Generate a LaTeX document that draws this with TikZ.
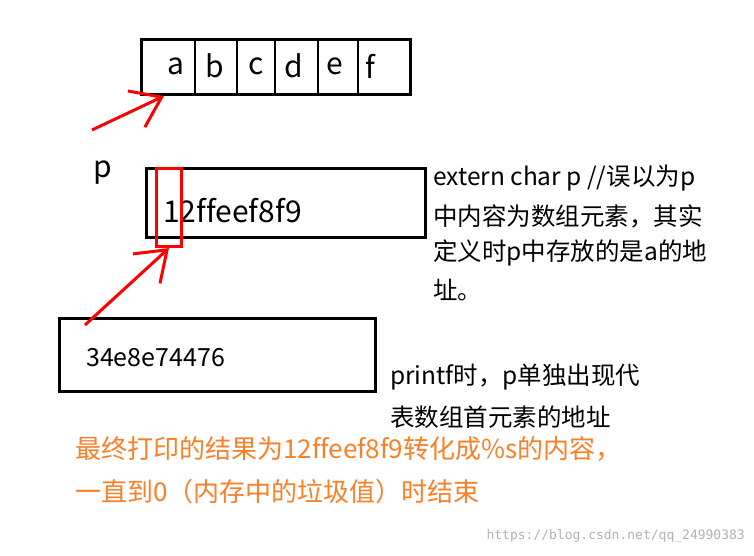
\documentclass[tikz,border=0pt]{standalone}
\usepackage{fontspec}
\setmainfont{Noto Sans CJK SC}[Ligatures={NoCommon}]
\newfontfamily\wm{DejaVu Sans Mono}
\usetikzlibrary{arrows.meta}
\definecolor{org}{RGB}{250,128,40}
\tikzset{box/.style={draw,line width=3pt},
 redarr/.style={red,line width=3pt,-{Straight Barb[length=28pt,width=40pt,line width=3pt]}},
 lt/.style={anchor=west,inner sep=0,font=\fontsize{24.5}{27}\selectfont},
 cell/.style={inner sep=0,font=\fontsize{30}{32}\selectfont}}
\begin{document}
\begin{tikzpicture}[x=1pt,y=-1pt]
\useasboundingbox[fill=white] (0,0) rectangle (754,555);
\node[box,minimum width=269,minimum height=55,anchor=north west,inner sep=0] (arr) at (140,38) {};
\foreach \x in {195,237,275,318,358}{\draw[line width=2.5pt] (\x,38) -- (\x,93);}
\foreach \c/\x in {a/176,b/215,c/256,d/294,e/335,f/370}{\node[cell] (c\c) at (\x,66) {\c};}
\node[cell] (p) at (103,173) {p};
\node[box,minimum width=279,minimum height=69,anchor=north west,inner sep=0] (pb) at (145,167) {};
\node[inner sep=0,font=\fontsize{30}{30}\selectfont,anchor=west] (pv) at (163,211) {12ffeef8f9};
\node[draw=red,line width=3pt,minimum width=25,minimum height=78,anchor=north west,inner sep=0] (rr) at (155,167) {};
\node[box,minimum width=316,minimum height=73,anchor=north west,inner sep=0] (qb) at (58,317) {};
\node[anchor=west,inner sep=0,font=\fontsize{25}{26}\selectfont] (qv) at (86,358) {34e8e74476};
\coordinate (s1) at (92,130);
\coordinate (s2) at (85,325);
\draw[redarr] (s1) -- (arr.south west -| 164,95);
\draw[redarr] (s2) -- (rr.south);
\node[lt] (t1) at (433,178) {extern char p //误以为p};
\node[lt] (t2) at (433,216) {中内容为数组元素，其实};
\node[lt] (t3) at (433,253) {定义时p中存放的是a的地};
\node[lt] (t4) at (433,290) {址。};
\node[lt] (u1) at (390,377) {printf时，p单独出现代};
\node[lt] (u2) at (390,417) {表数组首元素的地址};
\node[lt,text=org,font=\fontsize{26}{28}\selectfont] (o1) at (75,449) {最终打印的结果为12ffeef8f9转化成\%s的内容，};
\node[lt,text=org,font=\fontsize{26}{28}\selectfont] (o2) at (75,492) {一直到0（内存中的垃圾值）时结束};
\node[anchor=east,inner sep=0,text=gray!60,font=\wm\fontsize{13}{14}\selectfont] (w) at (745,536) {https://blog.csdn.net/qq\_24990383};
\end{tikzpicture}
\end{document}
